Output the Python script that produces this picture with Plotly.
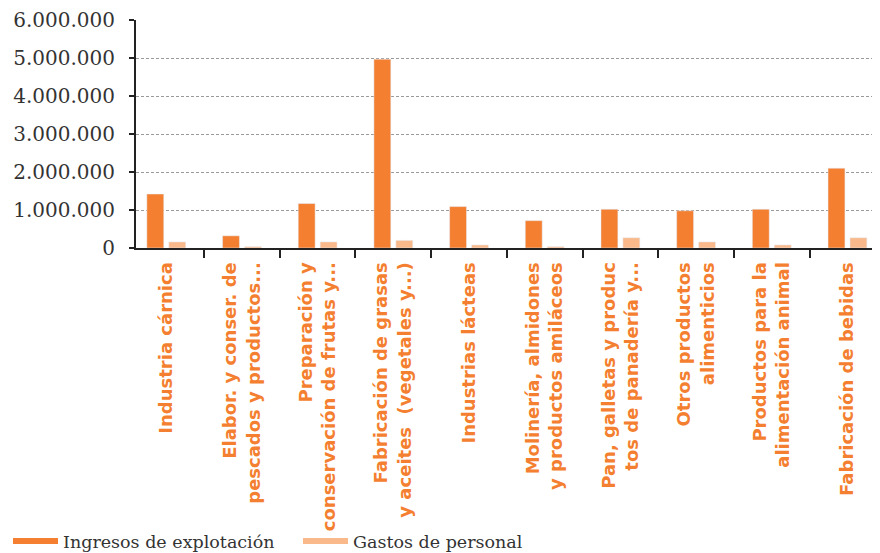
import plotly.graph_objects as go

categories = [
    "Industria cárnica",
    "Elabor. y conser. de<br>pescados y productos...",
    "Preparación y<br>conservación de frutas y...",
    "Fabricación de grasas<br>y aceites  (vegetales y...)",
    "Industrias lácteas",
    "Molinería, almidones<br>y productos amiláceos",
    "Pan, galletas y produc<br>tos de panadería y...",
    "Otros productos<br>alimenticios",
    "Productos para la<br>alimentación animal",
    "Fabricación de bebidas",
]
ingresos = [1420000, 320000, 1170000, 4970000, 1090000, 720000, 1020000, 980000, 1020000, 2100000]
gastos = [160000, 35000, 160000, 200000, 80000, 35000, 270000, 160000, 80000, 270000]
y_ticks = [0, 1000000, 2000000, 3000000, 4000000, 5000000, 6000000]

ORANGE = "#F47F30"
LIGHT = "#FAB98B"

fig = go.Figure()
fig.add_trace(go.Bar(x=categories, y=ingresos, marker_color=ORANGE, name="Ingresos de explotación",
                     showlegend=False))
fig.add_trace(go.Bar(x=categories, y=gastos, marker_color=LIGHT, name="Gastos de personal",
                     showlegend=False))
# legend entries drawn as lines
fig.add_trace(go.Scatter(x=[None], y=[None], mode="lines", line=dict(color=ORANGE, width=6),
                         name="Ingresos de explotación"))
fig.add_trace(go.Scatter(x=[None], y=[None], mode="lines", line=dict(color=LIGHT, width=6),
                         name="Gastos de personal"))

# page has an 8px body margin, so the figure is sized to fill the rest of the window
fig.update_layout(
    width=872, height=545,
    margin=dict(l=128, r=0, t=12, b=305, autoexpand=False),
    paper_bgcolor="white", plot_bgcolor="white",
    barmode="group", bargap=0.42, bargroupgap=0.23,
    separators=",.",
    showlegend=True,
    legend=dict(orientation="h", xref="container", yref="container", x=0.0, y=0.022,
                xanchor="left", yanchor="middle", bgcolor="rgba(0,0,0,0)",
                font=dict(family="DejaVu Serif", size=17.5, color="#333333"),
                itemwidth=45, entrywidth=230, tracegroupgap=0),
)
fig.update_xaxes(
    type="category", range=[-0.4, 9.43], automargin=False,
    showline=True, linecolor="#222222", linewidth=2,
    ticks="outside", ticklen=8, tickwidth=2, tickcolor="#222222",
    tickson="boundaries", showgrid=False,
    tickangle=-90, ticklabelstandoff=5,
    tickfont=dict(family="DejaVu Sans", size=18, color=ORANGE, weight="bold"),
)
fig.update_yaxes(
    range=[0, 6000000], tickvals=y_ticks, tickformat=",d", automargin=False,
    showline=True, linecolor="#222222", linewidth=2,
    ticks="outside", ticklen=5, tickwidth=2, tickcolor="#222222",
    showgrid=True, gridcolor="#9a9a9a", gridwidth=1, griddash="3px,2px",
    zeroline=False,
    ticklabelstandoff=10,
    tickfont=dict(family="DejaVu Serif", size=20, color="#333333"),
)

fig.write_html("out.html")
